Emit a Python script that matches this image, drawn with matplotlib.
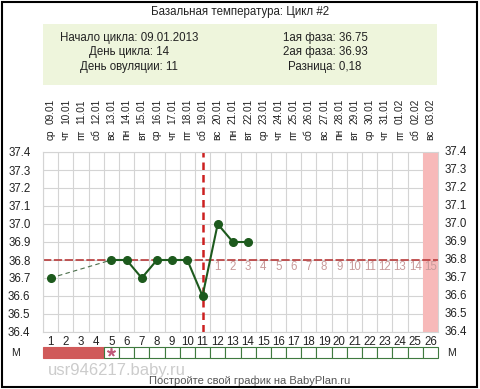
import matplotlib.pyplot as plt
import matplotlib.transforms as mtransforms
from matplotlib.patches import Rectangle

plt.rcParams['font.family'] = ['Liberation Sans', 'DejaVu Sans']

W, H = 480, 389

# chart data
days = list(range(1, 27))
dates = ["09.01", "10.01", "11.01", "12.01", "13.01", "14.01", "15.01", "16.01",
         "17.01", "18.01", "19.01", "20.01", "21.01", "22.01", "23.01", "24.01",
         "25.01", "26.01", "27.01", "28.01", "29.01", "30.01", "31.01", "01.02",
         "02.02", "03.02"]
weekdays = ["ср", "чт", "пт", "сб", "вс", "пн", "вт"]
temp_days = [1, 5, 6, 7, 8, 9, 10, 11, 12, 13, 14]
temps = [36.7, 36.8, 36.8, 36.7, 36.8, 36.8, 36.8, 36.6, 37.0, 36.9, 36.9]
coverline = 36.8
ovulation_day = 11
menses_days = [1, 2, 3, 4]
star_day = 5
info_left = ["Начало цикла: 09.01.2013", "День цикла: 14", "День овуляции: 11"]
info_right = ["1ая фаза: 36.75", "2ая фаза: 36.93", "Разница: 0,18"]
yticks = [i / 10 for i in range(364, 375)]

def fy(y):
    return 1 - y / H

def fx(x):
    return x / W

fig = plt.figure(figsize=(W / 100, H / 100), dpi=100)
fig.patch.set_facecolor("white")

# outer frame
fig.patches.append(Rectangle((fx(1.5), fy(387)), fx(475), 385 / H, transform=fig.transFigure,
                             fill=False, edgecolor="black", linewidth=1.5))

fig.text(0.5, fy(12), "Базальная температура: Цикл #2", ha="center", va="center",
         fontsize=8.3, color="#222222")

# info box
fig.patches.append(Rectangle((fx(43), fy(85)), fx(394), 61 / H, transform=fig.transFigure,
                             facecolor="#eef5dc", edgecolor="none"))
for i, (l, r) in enumerate(zip(info_left, info_right)):
    y = fy(38 + i * 14.5)
    fig.text(fx(129), y, l, ha="center", va="center", fontsize=8.3, color="#222222")
    fig.text(fx(325), y, r, ha="center", va="center", fontsize=8.3, color="#222222")

# main chart
ax = fig.add_axes([fx(43), fy(332), fx(395), 180 / H])
ax.set_xlim(0.5, 26.5)
ax.set_ylim(36.4, 37.4)
for v in yticks:
    ax.axhline(v, color="#d4d4d4", linewidth=0.8, zorder=0)
for d in range(27):
    ax.axvline(d + 0.5, color="#d4d4d4", linewidth=0.8, zorder=0)
for s in ax.spines.values():
    s.set_color("#d4d4d4")

ax.axvspan(25.5, 26.5, color="#f7b9b9", zorder=0.5, linewidth=0)

ax.set_xticks(days)
ax.set_xticklabels([str(d) for d in days])
ax.set_yticks(yticks)
ax.set_yticklabels(["%.1f" % v for v in yticks])
ax.tick_params(axis="both", length=0, labelsize=8.3, colors="#222222")
ax.tick_params(axis="y", pad=9)
ax.tick_params(axis="x", pad=3)

# right-hand temperature labels
tr_y = mtransforms.blended_transform_factory(fig.transFigure, ax.transData)
for v in yticks:
    ax.text(fx(456), v, "%.1f" % v, ha="center", va="center", fontsize=8.3,
            color="#222222", transform=tr_y, clip_on=False)

# coverline
ax.axhline(coverline, color="#b83a3a", linewidth=1.2, dashes=(5, 1.5), zorder=2)
# ovulation line
ax.axvline(ovulation_day, color="#cc2020", linewidth=1.8, dashes=(3, 2), zorder=2)

# post-ovulation day numbers
for i, d in enumerate(range(ovulation_day + 1, 27)):
    ax.text(d, coverline - 0.04, str(i + 1), ha="center", va="center",
            fontsize=8.3, color="#c89a9a", zorder=3)

# temperature curve: dashed across missing days
ax.plot(temp_days[:2], temps[:2], color="#4a6e4a", linewidth=0.8, dashes=(4, 3), zorder=3)
ax.plot(temp_days[1:], temps[1:], color="#1d5a1d", linewidth=1.5, zorder=4)
ax.plot(temp_days, temps, "o", color="#1d5a1d", markersize=5.5, zorder=5)

# date labels
tr = mtransforms.blended_transform_factory(ax.transData, fig.transFigure)
for i, d in enumerate(days):
    ax.text(d, fy(140), weekdays[i % 7], rotation=90, ha="center", va="bottom",
            fontsize=7.3, color="#222222", transform=tr, clip_on=False)
    ax.text(d, fy(124), dates[i], rotation=90, ha="center", va="bottom",
            fontsize=7.3, color="#222222", transform=tr, clip_on=False)

# menses strip
bx = fig.add_axes([fx(43), fy(358), fx(395), 11 / H])
bx.set_xlim(0.5, 26.5)
bx.set_ylim(0, 1)
bx.axis("off")
for d in days:
    if d in menses_days:
        bx.add_patch(Rectangle((d - 0.5, 0), 1, 1, facecolor="#d05a5a", edgecolor="#d05a5a",
                               linewidth=0.8, clip_on=False))
    else:
        bx.add_patch(Rectangle((d - 0.5, 0), 1, 1, facecolor="white", edgecolor="#3f7a3f",
                               linewidth=0.8, clip_on=False))
bx.plot([star_day], [0.55], marker=(5, 2, 0), markersize=6, color="#c05a7a",
        markeredgewidth=1.2, clip_on=False)
fig.text(fx(16), fy(353), "М", ha="center", va="center", fontsize=7.5, color="#222222")
fig.text(fx(452), fy(353), "М", ha="center", va="center", fontsize=7.5, color="#222222")

# watermark and footer
fig.text(fx(48), fy(370), "usr946217.baby.ru", ha="left", va="center", fontsize=12,
         color="#cccccc")
fig.text(fx(250), fy(381), "Постройте свой график на BabyPlan.ru", ha="center",
         va="center", fontsize=8, color="#555555")

fig.savefig("out.png", dpi=100)
